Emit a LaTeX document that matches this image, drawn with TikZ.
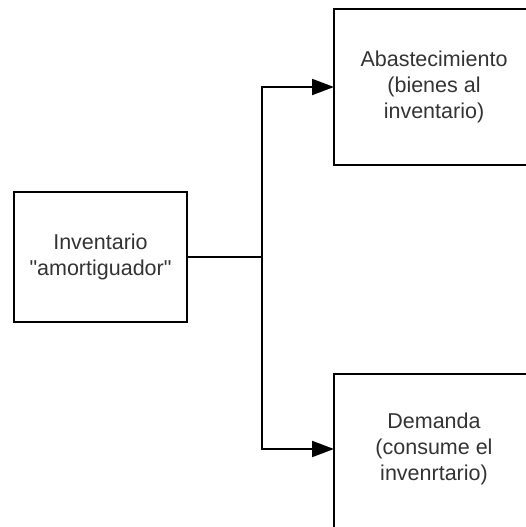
\documentclass[tikz,border=0pt]{standalone}
\usepackage{fontspec}
\setmainfont{Liberation Sans}[Ligatures=TeXOff]
\usetikzlibrary{arrows.meta}
\definecolor{txt}{HTML}{333333}
\tikzset{
  frame/.style={draw=black, line width=2pt, line join=miter},
  label text/.style={align=center, text=txt,
    font=\fontsize{21.5pt}{26pt}\selectfont, inner sep=0pt},
  link/.style={draw=black, line width=2pt,
    -{Triangle[length=22pt,width=16pt]}},
}
\begin{document}
\begin{tikzpicture}[x=1pt,y=-1pt]
  \useasboundingbox (0,0) rectangle (525,527);
  % buffer stock on the left
  \node[frame, label text, minimum width=173pt, minimum height=130pt] (inv) at (100.5,257)
    {Inventario\\"amortiguador"};
  % supply and demand blocks run off the right and bottom edges
  \node[label text] (abs) at (434,87) {Abastecimiento\\(bienes al\\inventario)};
  \node[label text] (dem) at (434,449) {Demanda\\(consume el\\invenrtario)};
  \coordinate (absin) at (334,87);
  \coordinate (demin) at (334,449);
  \draw[frame] (526,9) -- (334,9) -- (334,165) -- (526,165);
  \draw[frame] (526,374) -- (334,374) -- (334,528);
  % branching connector
  \coordinate (jn) at (262,257);
  \draw[line width=2pt] (inv.east) -- (jn);
  \draw[link] (jn) |- (absin);
  \draw[link] (jn) |- (demin);
\end{tikzpicture}
\end{document}
